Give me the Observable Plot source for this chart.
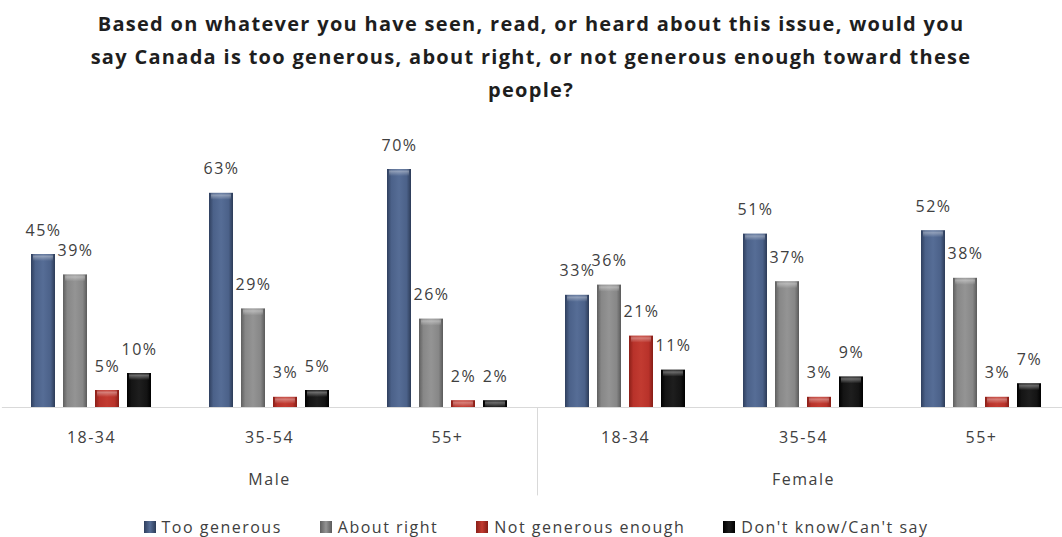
<!DOCTYPE html>
<html>
<head>
<meta charset="utf-8">
<script src="https://cdn.jsdelivr.net/npm/d3@7"></script>
<script src="https://cdn.jsdelivr.net/npm/@observablehq/plot@0.6"></script>
<style>
  html, body { margin: 0; padding: 0; background: #fff; overflow: hidden; }
  body { width: 1062px; height: 537px; font-family: "Open Sans", sans-serif; }
  #title { height: 112px; box-sizing: border-box; padding-top: 7px; text-align: center;
           font-weight: bold; font-size: 20px; letter-spacing: 1.3px; line-height: 33px; color: #1e1e1e; }
  #title div { white-space: nowrap; }
  #legend { display: flex; justify-content: center; gap: 38px; margin-top: 16px; padding-left: 10px;
            font-size: 16px; letter-spacing: 1.5px; color: #404040; line-height: 22px; }
  #legend .item { display: flex; align-items: center; }
  #legend .sw { width: 12px; height: 12px; margin-right: 6px; }
</style>
</head>
<body>
<svg width="0" height="0" style="position:absolute">
  <defs>
    <linearGradient id="g0" x1="0" x2="1" y1="0" y2="0">
      <stop offset="0" stop-color="#2f3f5e"/><stop offset="0.18" stop-color="#4b6189"/>
      <stop offset="0.5" stop-color="#566d96"/><stop offset="0.82" stop-color="#4b6189"/>
      <stop offset="1" stop-color="#2c3b57"/>
    </linearGradient>
    <linearGradient id="g1" x1="0" x2="1" y1="0" y2="0">
      <stop offset="0" stop-color="#5f5f5f"/><stop offset="0.18" stop-color="#878787"/>
      <stop offset="0.5" stop-color="#949494"/><stop offset="0.82" stop-color="#878787"/>
      <stop offset="1" stop-color="#5a5a5a"/>
    </linearGradient>
    <linearGradient id="g2" x1="0" x2="1" y1="0" y2="0">
      <stop offset="0" stop-color="#8a1f18"/><stop offset="0.18" stop-color="#b8322a"/>
      <stop offset="0.5" stop-color="#c23b31"/><stop offset="0.82" stop-color="#b8322a"/>
      <stop offset="1" stop-color="#861d16"/>
    </linearGradient>
    <linearGradient id="g3" x1="0" x2="1" y1="0" y2="0">
      <stop offset="0" stop-color="#000"/><stop offset="0.18" stop-color="#141414"/>
      <stop offset="0.5" stop-color="#1e1e1e"/><stop offset="0.82" stop-color="#141414"/>
      <stop offset="1" stop-color="#000"/>
    </linearGradient>
    <linearGradient id="shine" x1="0" x2="0" y1="0" y2="1">
      <stop offset="0" stop-color="#fff" stop-opacity="0.05"/>
      <stop offset="0.35" stop-color="#fff" stop-opacity="0.35"/>
      <stop offset="1" stop-color="#fff" stop-opacity="0"/>
    </linearGradient>
  </defs>
</svg>
<div id="title">
  <div>Based on whatever you have seen, read, or heard about this issue, would you</div>
  <div>say Canada is too generous, about right, or not generous enough toward these</div>
  <div>people?</div>
</div>
<div id="chart"></div>
<div id="legend"></div>
<script>
// ---- data ----
const sexes = ["Male", "Female"];
const ages = ["18-34", "35-54", "55+"];
const series = ["Too generous", "About right", "Not generous enough", "Don't know/Can't say"];
const tooGenerous = [45, 63, 70, 33, 51, 52];
const aboutRight = [39, 29, 26, 36, 37, 38];
const notGenerousEnough = [5, 3, 2, 21, 3, 3];
const dontKnow = [10, 5, 2, 11, 9, 7];

const seriesFills = ["url(#g0)", "url(#g1)", "url(#g2)", "url(#g3)"];
const legendCss = [
  "linear-gradient(90deg,#2f3f5e,#566d96,#2c3b57)",
  "linear-gradient(90deg,#5f5f5f,#949494,#5a5a5a)",
  "linear-gradient(90deg,#8a1f18,#c23b31,#861d16)",
  "linear-gradient(90deg,#000,#1e1e1e,#000)"
];

// ---- build table ----
const groups = [];
sexes.forEach(s => ages.forEach(a => groups.push(s + "|" + a)));
const valuesBySeries = [tooGenerous, aboutRight, notGenerousEnough, dontKnow];
const rows = [];
groups.forEach((g, gi) => series.forEach((s, si) => rows.push({group: g, series: s, value: valuesBySeries[si][gi]})));

// ---- layout ----
const W = 1062, H = 388, ML = 9, MR = 0, MT = 57, MB = 93;
const fxPI = 0.091, xPI = 0.25, xPO = 0.6;
const fxStep = (W - ML - MR) / (groups.length - fxPI);
const fxBw = fxStep * (1 - fxPI);
const xStep = fxBw / (series.length - xPI + 2 * xPO);
const xBw = xStep * (1 - xPI);
const sepDx = -(xPO * xStep + xBw / 2 + fxStep * fxPI / 2);

const chart = Plot.plot({
  width: W, height: H,
  marginLeft: ML, marginRight: MR, marginTop: MT, marginBottom: MB,
  style: {fontFamily: "Open Sans, sans-serif", letterSpacing: "1.5px", overflow: "visible"},
  fx: {domain: groups, paddingInner: fxPI, paddingOuter: 0},
  x: {domain: series, paddingInner: xPI, paddingOuter: xPO, axis: null},
  y: {domain: [0, 70], axis: null},
  color: {domain: series, range: seriesFills},
  marks: [
    Plot.ruleY([0], {stroke: "#d9d9d9", insetLeft: -fxStep * fxPI / 2, insetRight: -fxStep * fxPI / 2}),
    Plot.ruleX([series[0]], {fx: () => groups[3], x: d => d, y1: 0, y2: -26, dx: sepDx, stroke: "#d9d9d9", clip: false}),
    Plot.barY(rows, {fx: "group", x: "series", y: "value", fill: "series"}),
    Plot.rectY(rows, {fx: "group", x: "series", y1: "value", y2: "value", insetBottom: -7, insetLeft: 2, insetRight: 2, fill: "url(#shine)"}),
    Plot.text(rows, {fx: "group", x: "series", y: "value", text: d => d.value + "%", dy: -24, fontSize: 16, fill: "#404040"}),
    Plot.axisFx({anchor: "bottom", tickSize: 0, tickPadding: 24, fontSize: 16, fill: "#404040",
                 tickFormat: d => d.split("|")[1], label: null}),
    Plot.axisFx({anchor: "bottom", tickSize: 0, tickPadding: 66, fontSize: 16, fill: "#404040",
                 ticks: [groups[1], groups[4]], tickFormat: d => d.split("|")[0], label: null})
  ]
});
document.getElementById("chart").appendChild(chart);

// ---- legend ----
const legend = document.getElementById("legend");
series.forEach((s, i) => {
  const item = document.createElement("div");
  item.className = "item";
  const sw = document.createElement("span");
  sw.className = "sw";
  sw.style.background = legendCss[i];
  const t = document.createElement("span");
  t.textContent = s;
  item.appendChild(sw); item.appendChild(t);
  legend.appendChild(item);
});
</script>
</body>
</html>
